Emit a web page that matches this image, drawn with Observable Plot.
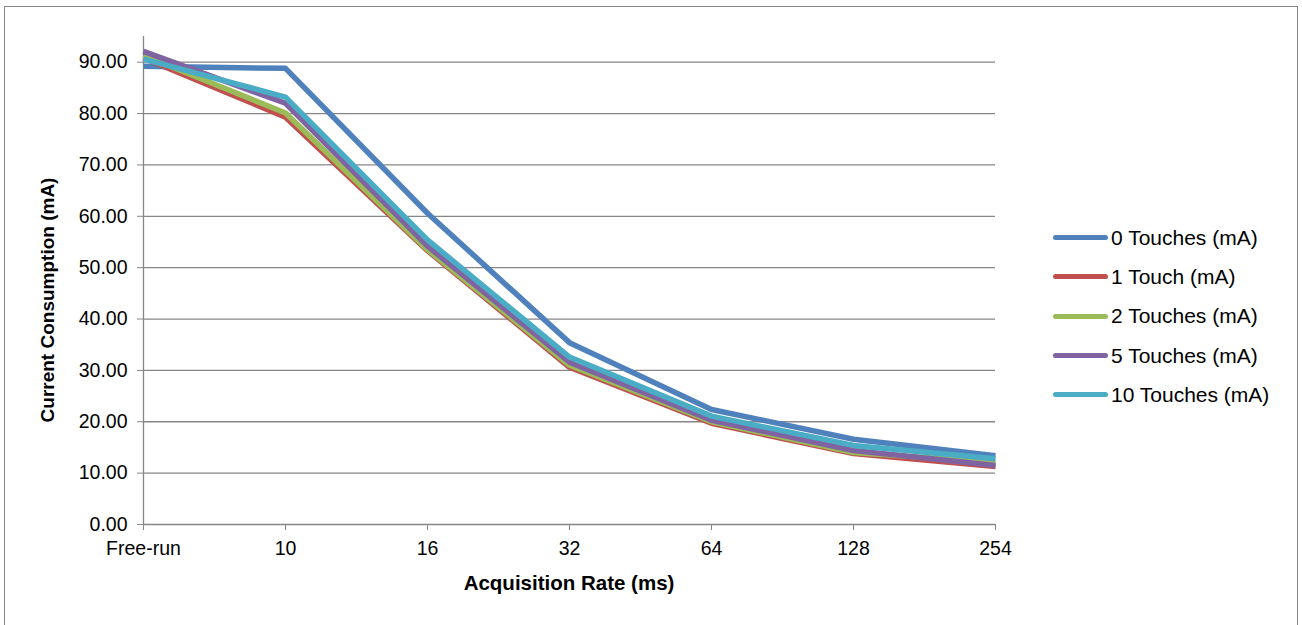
<!DOCTYPE html>
<html><head><meta charset="utf-8">
<script src="https://cdn.jsdelivr.net/npm/d3@7"></script>
<script src="https://cdn.jsdelivr.net/npm/@observablehq/plot@0.6"></script>
<style>
body{margin:0;background:#fff;font-family:"Liberation Sans",Arial,sans-serif;}
#wrap{position:relative;width:1302px;height:625px;overflow:hidden;}
#frame{position:absolute;left:4px;top:6px;width:1294px;height:640px;border:1px solid #868686;box-sizing:border-box;pointer-events:none;}
#chart{position:absolute;left:0;top:0;}
.ytitle{position:absolute;left:48px;top:300px;transform:translate(-50%,-50%) rotate(-90deg);font-weight:bold;font-size:19px;white-space:nowrap;}
.xtitle{position:absolute;left:569px;top:583px;transform:translate(-50%,-50%);font-weight:bold;font-size:20.5px;white-space:nowrap;}
#legend{position:absolute;left:1053px;top:218px;}
.row{display:flex;align-items:center;height:39.3px;font-size:21px;white-space:nowrap;}
.sw{width:55px;height:5px;border-radius:3px;margin-right:3px;}
</style></head>
<body>
<div id="wrap">
  <div id="chart"></div>
  <div class="ytitle">Current Consumption (mA)</div>
  <div class="xtitle">Acquisition Rate (ms)</div>
  <div id="legend"></div>
  <div id="frame"></div>
</div>
<script>
const rates = ["Free-run", "10", "16", "32", "64", "128", "254"];
const touches0 = [89.2, 88.8, 60.6, 35.4, 22.4, 16.6, 13.4];
const touch1 = [90.8, 79.3, 53.3, 30.6, 19.7, 13.8, 11.3];
const touches2 = [91.3, 80.1, 53.5, 31.0, 20.0, 14.0, 12.1];
const touches5 = [92.1, 82.0, 54.2, 31.6, 20.3, 14.4, 11.5];
const touches10 = [90.6, 83.2, 55.4, 32.6, 21.1, 15.4, 12.8];
const seriesNames = ["0 Touches (mA)", "1 Touch (mA)", "2 Touches (mA)", "5 Touches (mA)", "10 Touches (mA)"];
const seriesColors = ["#4F81BD", "#C0504D", "#9BBB59", "#8064A2", "#4BACC6"];
const yTicks = [0, 10, 20, 30, 40, 50, 60, 70, 80, 90];

const allSeries = [touches0, touch1, touches2, touches5, touches10];
const rows = [];
allSeries.forEach((vals, s) => vals.forEach((v, i) => rows.push({rate: rates[i], value: v, series: seriesNames[s]})));

const lineMarks = seriesNames.map((name, s) =>
  Plot.line(rows.filter(d => d.series === name), {
    x: "rate", y: "value", stroke: seriesColors[s], strokeWidth: 5.5, strokeLinejoin: "round", strokeLinecap: "butt"
  })
);

const chart = Plot.plot({
  width: 1302, height: 625,
  marginLeft: 143, marginRight: 307, marginTop: 36, marginBottom: 101,
  style: {fontFamily: '"Liberation Sans", Arial, sans-serif', fontSize: "19.5px", color: "#000", background: "transparent"},
  x: {type: "point", domain: rates, padding: 0},
  y: {domain: [0, 95]},
  marks: [
    Plot.gridY(yTicks.filter(t => t > 0), {stroke: "#868686", strokeOpacity: 1, strokeWidth: 1.3}),
    Plot.ruleY([0], {stroke: "#868686", strokeWidth: 1.3}),
    Plot.ruleX([rates[0]], {stroke: "#868686", strokeWidth: 1.3}),
    Plot.axisY({ticks: yTicks, tickFormat: d => d.toFixed(2), tickSize: 6, tickPadding: 10, label: null, stroke: "#868686", fill: "#000"}),
    Plot.axisX({tickSize: 6, tickPadding: 11, label: null, stroke: "#868686", fill: "#000"}),
    ...lineMarks
  ]
});
document.getElementById("chart").appendChild(chart);

const legend = document.getElementById("legend");
seriesNames.forEach((name, s) => {
  const r = document.createElement("div");
  r.className = "row";
  const sw = document.createElement("div");
  sw.className = "sw";
  sw.style.background = seriesColors[s];
  const t = document.createElement("span");
  t.textContent = name;
  r.appendChild(sw); r.appendChild(t);
  legend.appendChild(r);
});
</script>
</body></html>
